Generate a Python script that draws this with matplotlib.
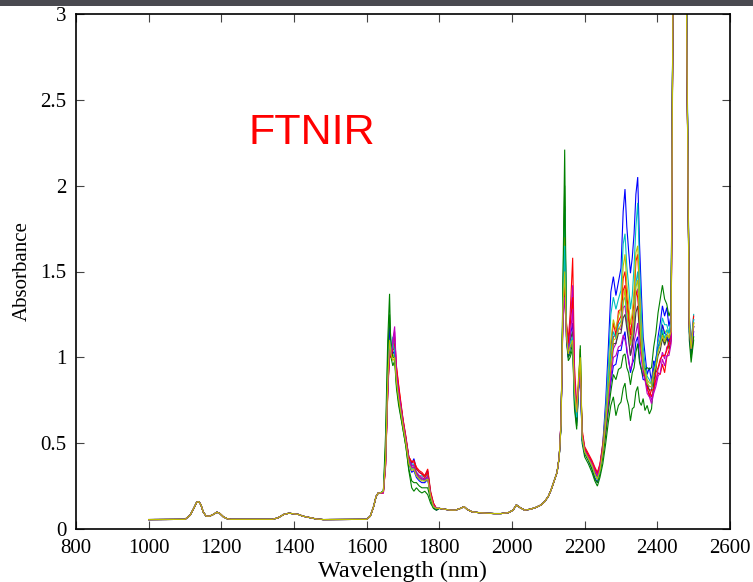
import matplotlib
matplotlib.use("Agg")
import matplotlib.pyplot as plt
from matplotlib.patches import Rectangle

# ---------------- data ----------------
# shared low-absorbance stretch 1000-1638 nm
wl_a = [1000, 1100, 1114, 1124, 1132, 1138, 1144, 1150, 1158, 1168, 1178, 1188, 1196,
        1206, 1216, 1226, 1340, 1356, 1372, 1386, 1400, 1412, 1424, 1440, 1462, 1480,
        1600, 1610, 1619, 1626, 1632, 1638]
vals_a = [0.055, 0.056, 0.08, 0.12, 0.155, 0.16, 0.14, 0.10, 0.075, 0.075, 0.085, 0.098,
          0.09, 0.07, 0.06, 0.056, 0.056, 0.065, 0.085, 0.092, 0.088, 0.085, 0.075, 0.068,
          0.058, 0.055, 0.056, 0.075, 0.13, 0.19, 0.21, 0.21]

# first C-H overtone band, per sample
wl_b = [1646, 1652, 1658, 1663, 1667, 1672, 1677, 1682, 1688, 1694, 1700, 1708, 1716,
        1724, 1730, 1737, 1745, 1752, 1760, 1768, 1776, 1784, 1792]
band_b = [
    [0.22, 0.38, 0.80, 1.05, 1.00, 1.10, 1.08, 0.88, 0.80, 0.72, 0.63, 0.52, 0.42, 0.38, 0.41, 0.35, 0.33, 0.32, 0.31, 0.34, 0.21, 0.14, 0.12],
    [0.22, 0.55, 1.10, 1.37, 1.00, 0.95, 0.98, 0.82, 0.72, 0.65, 0.58, 0.48, 0.34, 0.24, 0.22, 0.24, 0.22, 0.21, 0.22, 0.20, 0.15, 0.12, 0.11],
    [0.21, 0.36, 0.78, 1.02, 1.00, 1.06, 1.12, 0.95, 0.84, 0.74, 0.64, 0.54, 0.42, 0.39, 0.40, 0.36, 0.34, 0.33, 0.31, 0.35, 0.22, 0.15, 0.12],
    [0.22, 0.42, 0.88, 1.15, 1.05, 1.12, 1.06, 0.90, 0.79, 0.71, 0.62, 0.52, 0.41, 0.37, 0.38, 0.33, 0.31, 0.31, 0.30, 0.32, 0.20, 0.14, 0.12],
    [0.21, 0.38, 0.82, 1.05, 1.02, 1.10, 1.18, 0.92, 0.80, 0.72, 0.63, 0.53, 0.41, 0.37, 0.37, 0.33, 0.31, 0.30, 0.29, 0.31, 0.20, 0.14, 0.12],
    [0.22, 0.40, 0.86, 1.12, 1.04, 1.00, 1.03, 0.88, 0.77, 0.69, 0.61, 0.51, 0.39, 0.35, 0.36, 0.32, 0.30, 0.29, 0.28, 0.30, 0.19, 0.13, 0.12],
    [0.22, 0.40, 0.84, 1.08, 1.00, 1.04, 1.06, 0.89, 0.78, 0.70, 0.62, 0.52, 0.40, 0.36, 0.36, 0.32, 0.30, 0.29, 0.29, 0.30, 0.20, 0.14, 0.12],
    [0.22, 0.42, 0.90, 1.18, 1.06, 1.02, 1.04, 0.86, 0.76, 0.68, 0.60, 0.50, 0.38, 0.33, 0.34, 0.30, 0.28, 0.27, 0.27, 0.29, 0.19, 0.13, 0.11],
    [0.22, 0.48, 1.00, 1.25, 1.08, 1.00, 1.00, 0.84, 0.74, 0.66, 0.58, 0.48, 0.35, 0.28, 0.27, 0.27, 0.25, 0.24, 0.24, 0.24, 0.17, 0.12, 0.11],
    [0.21, 0.37, 0.80, 1.04, 1.00, 1.05, 1.08, 0.94, 0.83, 0.73, 0.64, 0.53, 0.42, 0.39, 0.39, 0.35, 0.33, 0.32, 0.30, 0.33, 0.21, 0.15, 0.12],
    [0.22, 0.40, 0.85, 1.10, 1.03, 1.08, 1.04, 0.88, 0.78, 0.70, 0.61, 0.51, 0.40, 0.35, 0.35, 0.31, 0.29, 0.29, 0.28, 0.30, 0.19, 0.13, 0.12],
    [0.21, 0.37, 0.80, 1.04, 1.01, 1.08, 1.15, 0.91, 0.80, 0.71, 0.62, 0.52, 0.40, 0.36, 0.36, 0.32, 0.30, 0.29, 0.29, 0.30, 0.20, 0.14, 0.12],
    [0.22, 0.40, 0.86, 1.10, 1.02, 0.98, 1.00, 0.86, 0.76, 0.68, 0.60, 0.50, 0.38, 0.34, 0.35, 0.31, 0.29, 0.28, 0.28, 0.29, 0.19, 0.13, 0.12],
]

# shared valley 1800-2130 nm
wl_c = [1800, 1815, 1830, 1845, 1858, 1868, 1876, 1890, 1910, 1930, 1950, 1970, 1990,
        2003, 2012, 2022, 2035, 2050, 2065, 2080, 2090, 2100, 2108, 2116, 2124, 2130]
vals_c = [0.12, 0.115, 0.11, 0.11, 0.12, 0.13, 0.115, 0.10, 0.095, 0.092, 0.09, 0.09,
          0.095, 0.11, 0.14, 0.125, 0.11, 0.115, 0.125, 0.14, 0.16, 0.19, 0.23, 0.28,
          0.33, 0.42]

# combination band region 2135-2500 nm, per sample
wl_d = [2135, 2140, 2145, 2150, 2155, 2160, 2167, 2172, 2178, 2183,
        2188, 2193, 2200, 2210, 2220, 2228, 2235, 2242, 2250, 2258,
        2265, 2272, 2279, 2286, 2293, 2300, 2306, 2311, 2316, 2321,
        2326, 2331, 2336, 2341, 2346, 2351, 2356, 2361, 2366, 2372,
        2378, 2384, 2390, 2396, 2402, 2408, 2414, 2420, 2426, 2432,
        2438, 2444, 2460, 2478, 2488, 2493, 2500]
band_d = [
    [0.62, 1.30, 1.88, 1.15, 1.05, 1.12, 1.20, 0.80, 0.68, 0.82,
     0.92, 0.54, 0.46, 0.42, 0.38, 0.33, 0.31, 0.36, 0.50, 0.75,
     1.05, 1.38, 1.47, 1.36, 1.44, 1.52, 1.85, 1.98, 1.76, 1.62,
     1.49, 1.58, 1.72, 1.95, 2.05, 1.66, 1.38, 1.12, 1.02, 0.90,
     0.94, 0.86, 0.98, 0.96, 1.12, 1.20, 1.30, 1.24, 1.29, 1.18,
     1.25, 3.5, 4.6, 3.6, 1.25, 1.05, 1.18],
    [0.60, 1.40, 2.21, 1.10, 0.98, 1.00, 1.05, 0.70, 0.58, 0.80,
     1.07, 0.50, 0.42, 0.38, 0.33, 0.28, 0.25, 0.30, 0.38, 0.50,
     0.62, 0.72, 0.77, 0.66, 0.72, 0.74, 0.82, 0.85, 0.76, 0.72,
     0.63, 0.70, 0.71, 0.80, 0.83, 0.74, 0.72, 0.76, 0.69, 0.72,
     0.67, 0.70, 0.85, 0.93, 1.06, 1.08, 1.15, 1.08, 1.13, 1.05,
     1.10, 3.4, 4.5, 3.7, 1.10, 0.97, 1.10],
    [0.63, 1.25, 1.60, 1.20, 1.10, 1.25, 1.58, 0.95, 0.72, 0.84,
     0.95, 0.58, 0.48, 0.44, 0.40, 0.36, 0.33, 0.38, 0.50, 0.68,
     0.85, 1.05, 1.20, 1.13, 1.27, 1.28, 1.46, 1.50, 1.36, 1.26,
     1.13, 1.22, 1.33, 1.56, 1.60, 1.38, 1.16, 0.98, 0.93, 0.84,
     0.81, 0.77, 0.81, 0.87, 0.91, 0.90, 0.96, 0.91, 1.00, 1.04,
     1.10, 3.5, 4.5, 3.6, 1.20, 1.08, 1.20],
    [0.62, 1.28, 1.85, 1.18, 1.06, 1.10, 1.15, 0.78, 0.66, 0.82,
     0.90, 0.52, 0.45, 0.41, 0.37, 0.32, 0.29, 0.35, 0.48, 0.70,
     0.95, 1.25, 1.35, 1.28, 1.34, 1.39, 1.66, 1.72, 1.53, 1.42,
     1.28, 1.36, 1.53, 1.76, 1.90, 1.53, 1.26, 1.06, 0.96, 0.89,
     0.87, 0.84, 0.93, 0.99, 1.09, 1.14, 1.23, 1.19, 1.19, 1.14,
     1.22, 3.5, 4.6, 3.7, 1.22, 1.08, 1.25],
    [0.64, 1.22, 1.50, 1.18, 1.08, 1.20, 1.42, 0.88, 0.70, 0.83,
     0.92, 0.56, 0.47, 0.43, 0.39, 0.35, 0.32, 0.37, 0.48, 0.62,
     0.78, 0.92, 1.05, 1.08, 1.17, 1.16, 1.29, 1.30, 1.20, 1.11,
     1.01, 1.09, 1.19, 1.36, 1.40, 1.20, 1.06, 0.94, 0.89, 0.81,
     0.79, 0.75, 0.81, 0.85, 0.93, 0.97, 1.03, 0.99, 1.06, 1.07,
     1.12, 3.5, 4.5, 3.6, 1.18, 1.05, 1.22],
    [0.61, 1.30, 1.70, 1.15, 1.05, 1.08, 1.12, 0.80, 0.70, 0.88,
     1.05, 0.55, 0.46, 0.42, 0.38, 0.33, 0.30, 0.35, 0.47, 0.66,
     0.88, 1.10, 1.22, 1.16, 1.24, 1.29, 1.53, 1.60, 1.43, 1.31,
     1.19, 1.26, 1.39, 1.61, 1.65, 1.38, 1.16, 0.99, 0.93, 0.87,
     0.85, 0.85, 0.93, 0.97, 1.06, 1.11, 1.19, 1.14, 1.16, 1.11,
     1.18, 3.5, 4.5, 3.6, 1.20, 1.05, 1.20],
    [0.62, 1.26, 1.55, 1.15, 1.05, 1.10, 1.15, 0.82, 0.68, 0.82,
     0.92, 0.54, 0.46, 0.42, 0.38, 0.33, 0.30, 0.35, 0.46, 0.62,
     0.80, 0.95, 1.08, 1.08, 1.14, 1.14, 1.23, 1.25, 1.17, 1.10,
     1.01, 1.06, 1.14, 1.26, 1.30, 1.14, 1.03, 0.94, 0.89, 0.83,
     0.81, 0.81, 0.89, 0.94, 1.01, 1.04, 1.11, 1.07, 1.11, 1.09,
     1.15, 3.5, 4.5, 3.6, 1.18, 1.05, 1.18],
    [0.60, 1.22, 1.40, 1.10, 1.00, 1.05, 1.10, 0.75, 0.62, 0.80,
     0.90, 0.52, 0.44, 0.40, 0.35, 0.30, 0.27, 0.33, 0.44, 0.58,
     0.72, 0.85, 0.95, 0.96, 1.04, 1.04, 1.11, 1.15, 1.03, 0.99,
     0.91, 0.96, 0.99, 1.09, 1.12, 0.99, 0.93, 0.87, 0.87, 0.83,
     0.83, 0.83, 0.93, 0.99, 1.06, 1.09, 1.19, 1.14, 1.13, 1.09,
     1.15, 3.5, 4.5, 3.6, 1.15, 1.02, 1.15],
    [0.61, 1.35, 2.00, 1.12, 1.00, 1.02, 1.08, 0.72, 0.60, 0.82,
     1.05, 0.52, 0.44, 0.40, 0.35, 0.29, 0.27, 0.32, 0.42, 0.55,
     0.68, 0.80, 0.90, 0.87, 0.93, 0.94, 1.01, 1.02, 0.94, 0.91,
     0.84, 0.91, 0.94, 1.03, 1.08, 0.97, 0.93, 0.89, 0.93, 0.94,
     0.93, 0.94, 1.06, 1.14, 1.26, 1.34, 1.42, 1.34, 1.31, 1.24,
     1.28, 3.5, 4.5, 3.6, 1.15, 1.00, 1.12],
    [0.63, 1.24, 1.45, 1.18, 1.08, 1.18, 1.35, 0.85, 0.70, 0.83,
     0.93, 0.56, 0.47, 0.43, 0.39, 0.35, 0.32, 0.37, 0.48, 0.64,
     0.82, 0.98, 1.12, 1.13, 1.21, 1.24, 1.39, 1.42, 1.31, 1.21,
     1.09, 1.16, 1.24, 1.39, 1.35, 1.21, 1.04, 0.96, 0.87, 0.83,
     0.77, 0.81, 0.81, 0.91, 0.94, 0.99, 1.01, 1.01, 1.04, 1.09,
     1.12, 3.5, 4.5, 3.6, 1.20, 1.08, 1.24],
    [0.62, 1.28, 1.65, 1.15, 1.04, 1.08, 1.12, 0.78, 0.65, 0.82,
     0.90, 0.53, 0.45, 0.41, 0.37, 0.32, 0.29, 0.34, 0.46, 0.64,
     0.85, 1.02, 1.15, 1.11, 1.19, 1.21, 1.33, 1.35, 1.24, 1.16,
     1.07, 1.13, 1.24, 1.43, 1.50, 1.29, 1.11, 0.97, 0.91, 0.85,
     0.83, 0.83, 0.91, 0.97, 1.05, 1.09, 1.16, 1.11, 1.16, 1.14,
     1.20, 3.5, 4.6, 3.7, 1.22, 1.08, 1.22],
    [0.63, 1.20, 1.35, 1.12, 1.04, 1.12, 1.28, 0.85, 0.68, 0.82,
     0.90, 0.55, 0.46, 0.42, 0.38, 0.34, 0.31, 0.36, 0.46, 0.60,
     0.74, 0.88, 1.00, 1.01, 1.06, 1.07, 1.13, 1.10, 1.06, 0.97,
     0.93, 0.97, 1.09, 1.14, 1.20, 1.07, 0.99, 0.91, 0.87, 0.79,
     0.77, 0.73, 0.79, 0.83, 0.89, 0.91, 0.99, 0.95, 1.01, 1.01,
     1.08, 3.5, 4.5, 3.6, 1.18, 1.05, 1.18],
    [0.61, 1.28, 1.50, 1.12, 1.02, 1.06, 1.10, 0.80, 0.68, 0.86,
     1.00, 0.54, 0.45, 0.41, 0.37, 0.32, 0.29, 0.34, 0.45, 0.62,
     0.80, 0.95, 1.10, 1.11, 1.16, 1.19, 1.31, 1.40, 1.27, 1.16,
     1.07, 1.13, 1.24, 1.41, 1.45, 1.24, 1.06, 0.94, 0.91, 0.85,
     0.83, 0.83, 0.91, 0.95, 1.03, 1.07, 1.13, 1.09, 1.13, 1.11,
     1.15, 3.5, 4.5, 3.6, 1.18, 1.05, 1.20],
]

# MATLAB classic line colour order
line_colors = [(0, 0, 1), (0, 0.5, 0), (1, 0, 0), (0, 0.75, 0.75),
               (0.75, 0, 0.75), (0.75, 0.75, 0), (0.25, 0.25, 0.25)]

x_ticks = [800, 1000, 1200, 1400, 1600, 1800, 2000, 2200, 2400, 2600]
y_ticks = [0, 0.5, 1, 1.5, 2, 2.5, 3]
y_tick_labels = ["0", "0.5", "1", "1.5", "2", "2.5", "3"]

# ---------------- figure ----------------
W, H = 753, 582
fig = plt.figure(figsize=(W / 100, H / 100), dpi=100)
fig.patch.set_facecolor("white")
fig.patches.append(Rectangle((0, 1 - 6 / H), 1, 6 / H, transform=fig.transFigure,
                             facecolor="#4a4a50", edgecolor="none", zorder=0))

ax = fig.add_axes([76 / W, 1 - 529 / H, (730 - 76) / W, (529 - 14) / H])

for i in range(len(band_b)):
    xs = wl_a + wl_b + wl_c + wl_d
    ys = vals_a + band_b[i] + vals_c + band_d[i]
    ax.plot(xs, ys, color=line_colors[i % len(line_colors)], lw=0.8,
            solid_joinstyle="miter")

ax.set_xlim(800, 2600)
ax.set_ylim(0, 3)
ax.set_xticks(x_ticks)
ax.set_xticklabels([str(t) for t in x_ticks])
ax.set_yticks(y_ticks)
ax.set_yticklabels(y_tick_labels)

serif = ["Liberation Serif", "DejaVu Serif"]
for lab in ax.get_xticklabels() + ax.get_yticklabels():
    lab.set_fontfamily(serif)
    lab.set_fontsize(15)

ax.tick_params(direction="in", length=6, width=0.8, color="#444444",
               top=True, right=True, pad=7)
for sp in ax.spines.values():
    sp.set_linewidth(1.2)
    sp.set_color("black")

ax.set_xlabel("Wavelength (nm)", family=serif, fontsize=17.5, labelpad=2)
ax.set_ylabel("Absorbance", family=serif, fontsize=15, labelpad=6)

ax.text(1274, 2.244, "FTNIR", color="red", family=["Liberation Sans", "DejaVu Sans"],
        fontsize=31, ha="left", va="baseline")

fig.savefig("out.png", dpi=100, facecolor="white")
